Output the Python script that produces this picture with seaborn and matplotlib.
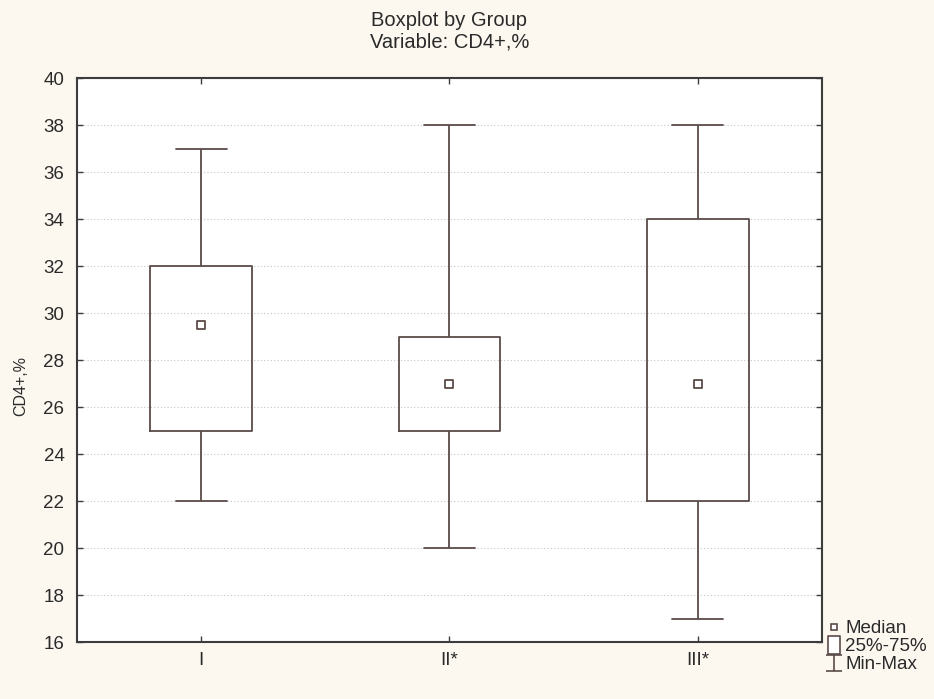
import numpy as np
import pandas as pd
import seaborn as sns
import matplotlib.pyplot as plt
from matplotlib.lines import Line2D
from matplotlib.path import Path

# Five-number summaries
groups = ["I", "II*", "III*"]
minimum = [22, 20, 17]
q1 = [25, 25, 22]
median = [29.5, 27, 27]
q3 = [32, 29, 34]
maximum = [37, 38, 38]

# five values per group reproduce min / quartiles / max exactly
rows = []
for g, a, b, c, d, e in zip(groups, minimum, q1, median, q3, maximum):
    for v in (a, b, c, d, e):
        rows.append({"group": g, "value": v})
df = pd.DataFrame(rows)

sns.set_theme(style="white")
plt.rcParams['font.family'] = ['Liberation Sans', 'DejaVu Sans']

line_col = "#5b4c48"
txt_col = "#2a2a2a"
bg = "#fcf8f0"

fig = plt.figure(figsize=(9.34, 6.99), dpi=100, facecolor=bg)
ax = fig.add_axes([0.0824, 0.0815, 0.7976, 0.8065])
ax.set_facecolor("white")

sns.boxplot(data=df, x="group", y="value", order=groups, whis=(0, 100),
            width=0.41, fill=False, color=line_col, linewidth=1.3,
            medianprops={"visible": False}, ax=ax)

sns.stripplot(x=groups, y=median, order=groups, jitter=False, marker="s",
              size=6, color="white", edgecolor=line_col, linewidth=1.3,
              zorder=5, ax=ax)

ax.set_ylim(16, 40)
ax.set_xlim(-0.5, 2.5)
ax.set_yticks(np.arange(16, 41, 2))
ax.yaxis.grid(True, linestyle=(0, (1, 2)), color="#c4c4c4", linewidth=0.8)
ax.set_axisbelow(True)

for s in ax.spines.values():
    s.set_color("#3c3c3c")
    s.set_linewidth(1.5)
ax.tick_params(axis="both", direction="in", length=4, width=1,
               color="#3c3c3c", labelsize=13.5, labelcolor=txt_col,
               top=True, right=True, bottom=True, left=True)
ax.tick_params(axis="y", pad=9)
ax.tick_params(axis="x", pad=7)

ax.set_xlabel("")
ax.set_ylabel("CD4+,%", fontsize=11.5, color=txt_col)
ax.yaxis.set_label_coords(-0.066, 0.455)
ax.set_title("Boxplot by Group\nVariable: CD4+,%", fontsize=14.5,
             color=txt_col, pad=22, linespacing=1.15)

# legend markers
ibeam = Path([(-1, 1), (1, 1), (0, 1), (0, -1), (-1, -1), (1, -1)],
             [Path.MOVETO, Path.LINETO, Path.MOVETO, Path.LINETO,
              Path.MOVETO, Path.LINETO])
rect = Path([(-0.7, -1), (0.7, -1), (0.7, 1), (-0.7, 1), (-0.7, -1)],
            [Path.MOVETO, Path.LINETO, Path.LINETO, Path.LINETO,
             Path.CLOSEPOLY])
handles = [
    Line2D([], [], marker="s", markersize=5, markerfacecolor="white",
           markeredgecolor=line_col, markeredgewidth=1.2, linestyle="none"),
    Line2D([], [], marker=rect, markersize=13, markerfacecolor="white",
           markeredgecolor=line_col, markeredgewidth=1.2, linestyle="none"),
    Line2D([], [], marker=ibeam, markersize=12, markerfacecolor="none",
           markeredgecolor=line_col, markeredgewidth=1.2, linestyle="none"),
]
fig.legend(handles, ["Median", "25%-75%", "Min-Max"], loc="lower left",
           bbox_to_anchor=(0.877, 0.026), frameon=False, fontsize=13.5,
           handlelength=0.8, handletextpad=0.2, labelspacing=0.05,
           borderaxespad=0, labelcolor=txt_col)

fig.savefig("out.png", dpi=100, facecolor=bg)
